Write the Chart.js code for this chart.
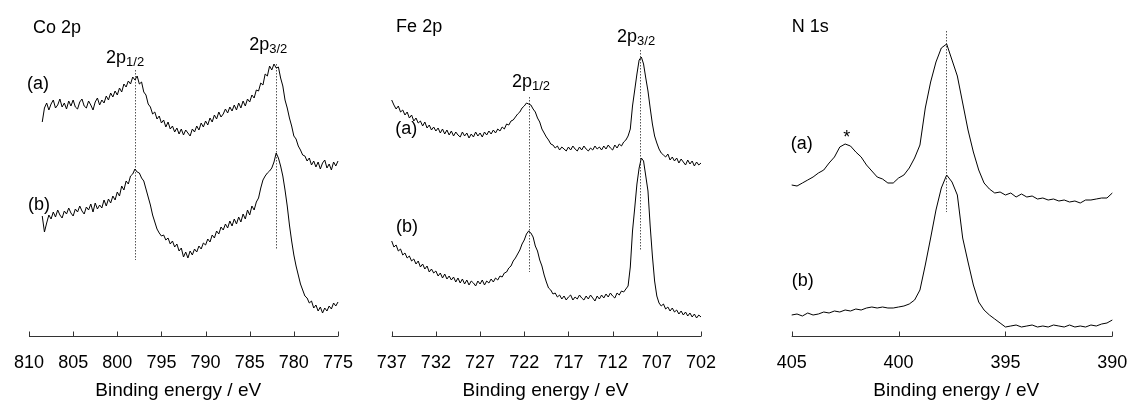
<!DOCTYPE html>
<html>
<head>
<meta charset="utf-8">
<script src="https://cdn.jsdelivr.net/npm/chart.js@4.4.1/dist/chart.umd.min.js"></script>
<style>
html,body{margin:0;padding:0;background:#fff;}
#wrap{position:relative;width:1130px;height:400px;overflow:hidden;}
.panel{position:absolute;top:0;height:400px;}
canvas{display:block;}
</style>
</head>
<body>
<div id="wrap">
  <div class="panel" style="left:0;width:370px"><canvas id="c1" width="370" height="400"></canvas></div>
  <div class="panel" style="left:370px;width:375px"><canvas id="c2" width="375" height="400"></canvas></div>
  <div class="panel" style="left:745px;width:385px"><canvas id="c3" width="385" height="400"></canvas></div>
</div>
<script>
// ---------- DATA ----------
// Co 2p binding energies (eV) and intensities (arb. units)
const coEnergy = [808.5,808.25,
 808,807.75,807.5,807.25, 807,806.75,806.5,806.25, 806,805.75,805.5,805.25, 805,804.75,804.5,804.25,
 804,803.75,803.5,803.25, 803,802.75,802.5,802.25, 802,801.75,801.5,801.25, 801,800.75,800.5,800.25,
 800,799.75,799.5,799.25, 799,798.75,798.5,798.25, 798,797.75,797.5,797.25, 797,796.75,796.5,796.25,
 796,795.75,795.5,795.25, 795,794.75,794.5,794.25, 794,793.75,793.5,793.25, 793,792.75,792.5,792.25,
 792,791.75,791.5,791.25, 791,790.75,790.5,790.25, 790,789.75,789.5,789.25, 789,788.75,788.5,788.25,
 788,787.75,787.5,787.25, 787,786.75,786.5,786.25, 786,785.75,785.5,785.25, 785,784.75,784.5,784.25,
 784,783.75,783.5,783.25, 783,782.75,782.5,782.25, 782,781.75,781.5,781.25, 781,780.75,780.5,780.25,
 780,779.75,779.5,779.25, 779,778.75,778.5,778.25, 778,777.75,777.5,777.25, 777,776.75,776.5,776.25,
 776,775.75,775.5,775.25, 775];
const coA = [214,228,
 233,226,232,236, 228,231,237,229, 233,227,235,230, 236,229,227,234,
 237,230,228,235, 231,226,234,238, 231,236,233,240, 236,243,239,245,
 241,248,244,252, 249,255,252,259, 256,260,252,254, 244,241,232,229,
 222,224,217,220, 213,216,209,214, 207,210,204,208, 202,207,201,206,
 203,200,207,204, 210,206,213,209, 215,211,218,214, 221,217,224,219,
 222,227,223,229, 225,231,226,233, 228,235,230,237, 234,241,238,246,
 245,253,251,262, 260,270,266,272, 268,269,258,250, 236,228,218,210,
 200,197,190,186, 181,180,175,178, 171,175,169,174, 167,173,176,168,
 172,166,174,170, 175];
const coB = [120,104,
 113,121,117,124, 119,126,121,118, 125,122,128,123, 120,127,124,130,
 125,122,129,126, 132,124,133,127, 131,128,136,130, 137,133,140,136,
 144,140,150,146, 155,152,160,162, 167,164,163,158, 155,147,139,131,
 121,114,107,103, 100,101,96,98, 92,95,89,92, 85,88,79,84,
 78,85,81,87, 84,90,87,93, 91,97,94,101, 98,105,102,109,
 106,112,108,115, 110,117,112,119, 114,122,117,126, 121,130,126,134,
 138,148,156,160, 163,165,168,174, 183,178,170,160, 146,130,111,95,
 81,70,61,52, 46,40,38,33, 35,28,31,25, 29,23,28,25,
 30,27,33,30, 34];
const coTicks = [810,805,800,795,790,785,780,775];
const coPeaks = [798.0, 782.0];

// Fe 2p
const feEnergy = [
 737,736.75,736.5,736.25, 736,735.75,735.5,735.25, 735,734.75,734.5,734.25, 734,733.75,733.5,733.25,
 733,732.75,732.5,732.25, 732,731.75,731.5,731.25, 731,730.75,730.5,730.25, 730,729.75,729.5,729.25,
 729,728.75,728.5,728.25, 728,727.75,727.5,727.25, 727,726.75,726.5,726.25, 726,725.75,725.5,725.25,
 725,724.75,724.5,724.25, 724,723.75,723.5,723.25, 723,722.75,722.5,722.25, 722,721.75,721.5,721.25,
 721,720.75,720.5,720.25, 720,719.75,719.5,719.25, 719,718.75,718.5,718.25, 718,717.75,717.5,717.25,
 717,716.75,716.5,716.25, 716,715.75,715.5,715.25, 715,714.75,714.5,714.25, 714,713.75,713.5,713.25,
 713,712.75,712.5,712.25, 712,711.75,711.5,711.25, 711,710.75,710.5,710.25, 710,709.75,709.5,709.25,
 709,708.75,708.5,708.25, 708,707.75,707.5,707.25, 707,706.75,706.5,706.25, 706,705.75,705.5,705.25,
 705,704.75,704.5,704.25, 704,703.75,703.5,703.25, 703,702.75,702.5,702.25, 702];
const feA = [
 236,231,227,230, 224,226,221,224, 218,221,215,218, 213,215,210,214,
 208,211,206,209, 205,208,203,207, 202,206,201,205, 200,204,201,199,
 204,200,203,198, 202,199,204,200, 203,199,204,201, 205,202,206,203,
 207,205,209,207, 212,211,215,216, 219,222,224,228, 230,233,232,231,
 227,224,218,214, 207,203,199,196, 192,191,188,190, 186,189,187,185,
 189,186,190,187, 185,189,186,190, 187,185,188,186, 190,187,189,186,
 190,187,191,188, 186,191,188,192, 190,194,196,200, 207,230,246,262,
 276,279,272,258, 245,228,212,200, 193,187,183,181, 179,182,176,179,
 175,178,173,177, 174,171,176,172, 175,170,174,171, 173];
const feB = [
 95,89,91,85, 87,81,83,78, 80,75,77,72, 75,69,72,67,
 70,64,67,63, 65,60,63,58, 62,57,60,56, 59,54,58,53,
 57,52,56,51, 55,53,50,55, 52,56,51,55, 53,57,54,58,
 56,60,59,63, 64,68,70,75, 78,82,86,92, 96,102,105,103,
 99,90,85,76, 70,61,54,48, 46,42,43,39, 41,37,40,36,
 39,41,36,39, 37,41,38,36, 40,37,41,38, 35,40,37,41,
 38,42,39,43, 40,38,43,41, 45,44,47,50, 69,105,128,152,
 168,178,175,160, 145,110,80,55, 40,33,30,32, 27,29,25,28,
 24,26,22,25, 21,24,20,23, 19,22,18,21, 19];
const feTicks = [737,732,727,722,717,712,707,702];
const fePeaks = [721.45, 708.85];

// N 1s
const nEnergy = [405,404.75,404.5,404.25,404,403.75,403.5,403.25,403,402.75,402.5,402.25,402,401.75,401.5,401.25,401,400.75,400.5,400.25,400,399.75,399.5,399.25,399,398.75,398.5,398.25,398,397.75,397.5,397.25,397,396.75,396.5,396.25,396,395.75,395.5,395.25,395,394.75,394.5,394.25,394,393.75,393.5,393.25,393,392.75,392.5,392.25,392,391.75,391.5,391.25,391,390.75,390.5,390.25,390];
const nA = [151,150,153,156,159,163,166,173,179,189,192,190,184,179,171,165,159,157,153,153,158,161,168,178,191,228,254,274,288,292,276,260,233,206,184,166,153,147,143,144,141,143,139,142,139,140,137,138,136,137,135,136,134,135,133,136,136,137,138,138,143];
const nB = [21,22,20,23,21,22,24,23,25,24,26,25,27,26,28,29,28,29,28,28,29,30,32,36,46,71,98,126,148,161,154,141,98,74,51,34,26,21,17,13,9,10,11,9,10,11,9,10,9,11,10,9,11,9,10,9,11,10,12,13,16];
const nTicks = [405,400,395,390];
const nPeaks = [397.8];

const axisTitle = 'Binding energy / eV';

// ---------- STYLE / HELPERS ----------
const FONT = "'Liberation Sans', Arial, Helvetica, sans-serif";

const decoPlugin = {
  id: 'deco',
  beforeDatasetsDraw(chart, args, opts) {
    const {ctx} = chart;
    const xs = chart.scales.x, ys = chart.scales.y;
    ctx.save();
    ctx.strokeStyle = '#555';
    ctx.lineWidth = 1;
    ctx.setLineDash([1.5, 1.5]);
    (opts.markers || []).forEach(m => {
      const px = Math.round(xs.getPixelForValue(m.e)) + 0.5;
      ctx.beginPath();
      ctx.moveTo(px, ys.getPixelForValue(m.top));
      ctx.lineTo(px, ys.getPixelForValue(m.bottom));
      ctx.stroke();
    });
    ctx.restore();
  },
  afterDraw(chart, args, opts) {
    const {ctx, chartArea} = chart;
    const xs = chart.scales.x, ys = chart.scales.y;
    ctx.save();
    // axis line with inward ticks
    const yb = Math.round(chartArea.bottom) + 0.5;
    ctx.strokeStyle = '#333';
    ctx.lineWidth = 1;
    ctx.beginPath();
    ctx.moveTo(chartArea.left, yb);
    ctx.lineTo(chartArea.right, yb);
    xs.ticks.forEach(t => {
      const px = Math.round(xs.getPixelForValue(t.value)) + 0.5;
      ctx.moveTo(px, yb);
      ctx.lineTo(px, yb - 5);
    });
    ctx.stroke();
    // tick labels
    ctx.fillStyle = '#000';
    ctx.textBaseline = 'alphabetic';
    ctx.textAlign = 'center';
    ctx.font = '18px ' + FONT;
    const tickY = ys.getPixelForValue(opts.tickLabelV);
    xs.ticks.forEach(t => {
      ctx.fillText(String(t.value), xs.getPixelForValue(t.value), tickY);
    });
    // labels
    (opts.labels || []).forEach(l => {
      const px = xs.getPixelForValue(l.e);
      const py = ys.getPixelForValue(l.v);
      ctx.font = (l.size || 18) + 'px ' + FONT;
      ctx.textAlign = l.align || 'left';
      ctx.fillText(l.t, px, py);
      if (l.sub) {
        const w = ctx.measureText(l.t).width;
        ctx.font = '13px ' + FONT;
        ctx.textAlign = 'left';
        ctx.fillText(l.sub, px + w, py + 3);
      }
    });
    ctx.restore();
  }
};

function makeChart(id, energy, series, tickValues, xmin, xmax, padL, padR, deco) {
  return new Chart(document.getElementById(id), {
    type: 'line',
    data: {
      datasets: series.map(s => ({
        data: energy.map((e, i) => ({x: e, y: s[i]})),
        borderColor: '#000',
        borderWidth: 1,
        pointRadius: 0,
        tension: 0,
        fill: false,
        clip: false
      }))
    },
    options: {
      responsive: false,
      animation: false,
      events: [],
      layout: {padding: {left: padL, right: padR, top: 36, bottom: 0}},
      plugins: {legend: {display: false}, tooltip: {enabled: false}, deco: deco},
      scales: {
        x: {
          type: 'linear', reverse: true, min: xmin, max: xmax,
          grid: {display: false, drawTicks: false, tickLength: 0},
          border: {display: false},
          afterBuildTicks: s => { s.ticks = tickValues.map(v => ({value: v})); },
          afterFit: s => { s.height = 64; },
          ticks: {display: false},
          title: {display: false, text: axisTitle}
        },
        y: {display: false, min: 0, max: 300}
      }
    },
    plugins: [decoPlugin]
  });
}

makeChart('c1', coEnergy, [coA, coB], coTicks, 775, 810, 29, 32, {
  tickLabelV: -32,
  markers: [{e: coPeaks[0], top: 266, bottom: 76}, {e: coPeaks[1], top: 272, bottom: 86}],
  labels: [
    {t: 'Co 2p', e: 809.55, v: 303},
    {t: '2p', sub: '1/2', e: 801.27, v: 273},
    {t: '2p', sub: '3/2', e: 785.06, v: 286},
    {t: '(a)', e: 810.23, v: 247},
    {t: '(b)', e: 810.11, v: 126},
    {t: axisTitle, e: 793.1, v: -60, align: 'center', size: 19}
  ]
});

makeChart('c2', feEnergy, [feA, feB], feTicks, 702, 737, 21.7, 44, {
  tickLabelV: -32,
  markers: [{e: fePeaks[0], top: 239, bottom: 64}, {e: fePeaks[1], top: 286, bottom: 85}],
  labels: [
    {t: 'Fe 2p', e: 736.5, v: 304},
    {t: '2p', sub: '1/2', e: 723.4, v: 249},
    {t: '2p', sub: '3/2', e: 711.5, v: 294},
    {t: '(a)', e: 736.6, v: 202},
    {t: '(b)', e: 736.5, v: 104},
    {t: axisTitle, e: 719.6, v: -60, align: 'center', size: 19}
  ]
});

makeChart('c3', nEnergy, [nA, nB], nTicks, 390, 405, 46.7, 17.7, {
  tickLabelV: -32,
  markers: [{e: nPeaks[0], top: 305, bottom: 124}],
  labels: [
    {t: 'N 1s', e: 405, v: 304},
    {t: '(a)', e: 405.05, v: 187},
    {t: '*', e: 402.43, v: 193, align: 'center'},
    {t: '(b)', e: 405, v: 50},
    {t: axisTitle, e: 397.3, v: -60, align: 'center', size: 19}
  ]
});
</script>
</body>
</html>
